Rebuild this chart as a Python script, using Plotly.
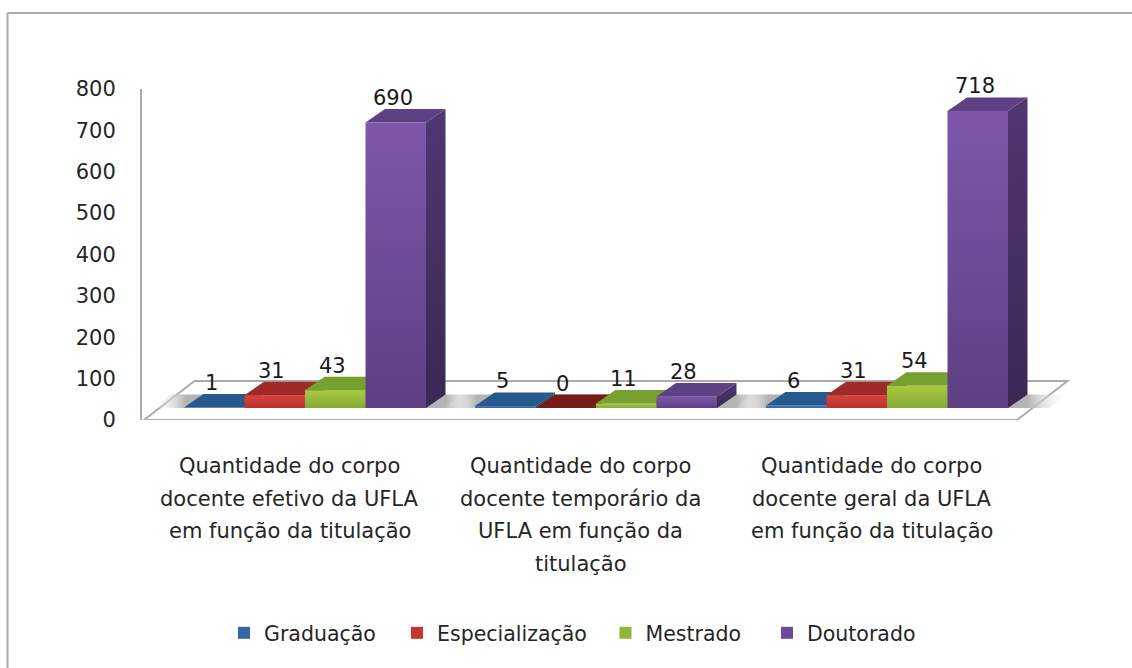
import plotly.graph_objects as go

# ---- data ----
series_names = ["Graduação", "Especialização", "Mestrado", "Doutorado"]
graduacao = [1, 5, 6]
especializacao = [31, 0, 31]
mestrado = [43, 11, 54]
doutorado = [690, 28, 718]
y_ticks = [0, 100, 200, 300, 400, 500, 600, 700, 800]
category_lines = [
    ["Quantidade do corpo", "docente efetivo da UFLA", "em função da titulação"],
    ["Quantidade do corpo", "docente temporário da", "UFLA em função da", "titulação"],
    ["Quantidade do corpo", "docente geral da UFLA", "em função da titulação"],
]
series_values = [graduacao, especializacao, mestrado, doutorado]

# ---- style ----
FONT = "DejaVu Sans"
TXT = "#262626"
GRID = "#ababab"
# legend/flat, front top, front bottom, top face, side top, side bottom
PALETTE = [
    ("#3566a6", "#4a7fc0", "#33659f", "#27598f", "#1f4a78", "#1f4a78"),
    ("#c0392f", "#d8423c", "#b73430", "#9f2a28", "#7f2020", "#7f2020"),
    ("#8db63a", "#a6cb41", "#86aa36", "#76a02f", "#5f8226", "#5f8226"),
    ("#6d4a99", "#7e57ab", "#5e3f84", "#5e4185", "#4f3772", "#3b2855"),
]
ZERO_TOP = "#761c18"
LEGEND_X_PX = [224, 397, 605.5, 767]
LEGEND_Y_PX = 613

# projection, layout in pixels of the 1132x668 page
W, H = 1132, 668
AX_L, AX_R, AX_T, AX_B = 142, 1100, 89, 420
FLOOR_X0, FLOOR_X1 = 144, 1017
CAT_PX = (FLOOR_X1 - FLOOR_X0) / 3
PX_PER_UNIT = (AX_B - AX_T) / 800
BAR_PX = 60.5
GROUP_SHIFT = 15.5
BASE = 12 / PX_PER_UNIT            # front base of the bars above axis zero
DX = 19.5 / CAT_PX                 # oblique depth of a bar
DY = 13.5 / PX_PER_UNIT
FLOOR_DX = 50.5 / CAT_PX
FLOOR_DY = 39 / PX_PER_UNIT
BW = BAR_PX / CAT_PX
SHIFT = GROUP_SHIFT / CAT_PX


def px_x(px):
    return (px - FLOOR_X0) / CAT_PX


def paper_x(px):
    return (px - AX_L) / (AX_R - AX_L)


def paper_y(px):
    return (AX_B - px) / (AX_B - AX_T)


x_range = [px_x(AX_L), px_x(AX_R)]

fig = go.Figure()


def poly(xs, ys, **kw):
    return go.Scatter(x=xs, y=ys, mode="lines", fill="toself", line=dict(width=0),
                      hoverinfo="skip", showlegend=False, **kw)


# bars: true values, each with its own legend box
legend_ids = ["legend", "legend2", "legend3", "legend4"]
for s, (name, vals) in enumerate(zip(series_names, series_values)):
    xs = [c + 0.5 + SHIFT + (s - 1.5) * BW for c in range(3)]
    fig.add_trace(go.Bar(x=xs, y=vals, base=BASE, width=BW, name=name, legend=legend_ids[s],
                         marker=dict(color=PALETTE[s][0], line=dict(width=0)),
                         hoverinfo="skip"))

# shadows on the floor, from group left to group right
for c in range(3):
    left = c + 0.5 + SHIFT - 2 * BW
    right = c + 0.5 + SHIFT + 2 * BW
    l0, r0 = left - 0.11, right + 0.14
    fig.add_trace(poly(
        [l0, r0, r0 + DX, l0 + DX, l0],
        [BASE, BASE, BASE + DY, BASE + DY, BASE],
        fillgradient=dict(type="horizontal", colorscale=[
            [0, "rgba(255,255,255,0)"], [0.1, "#b4b4b4"], [0.88, "#b4b4b4"], [1, "rgba(255,255,255,0)"]]),
    ))

# 3D faces drawn left to right so that each bar hides the side of the previous one
for c in range(3):
    for s, vals in enumerate(series_values):
        v = vals[c]
        x0 = c + 0.5 + SHIFT + (s - 2) * BW
        x1 = x0 + BW
        top = BASE + v
        flat, f_top, f_bot, t_col, sd_top, sd_bot = PALETTE[s]
        fig.add_trace(poly([x1, x1 + DX, x1 + DX, x1, x1],
                           [BASE, BASE + DY, top + DY, top, BASE],
                           fillgradient=dict(type="vertical", colorscale=[[0, sd_bot], [1, sd_top]])))
        fig.add_trace(poly([x0, x1, x1 + DX, x0 + DX, x0],
                           [top, top, top + DY, top + DY, top],
                           fillcolor=ZERO_TOP if v == 0 else t_col))
        if v > 0:
            fig.add_trace(poly([x0, x1, x1, x0, x0],
                               [BASE, BASE, top, top, BASE],
                               fillgradient=dict(type="vertical", colorscale=[[0, f_bot], [1, f_top]])))

shapes = [
    # floor
    dict(type="path", layer="below", xref="x", yref="y",
         path=f"M {px_x(FLOOR_X0)} 0 L {px_x(FLOOR_X1)} 0 L {px_x(FLOOR_X1) + FLOOR_DX} {FLOOR_DY} "
              f"L {px_x(FLOOR_X0) + FLOOR_DX} {FLOOR_DY} Z",
         line=dict(color=GRID, width=2), fillcolor="white"),
    # frame: only top and left edges show
    dict(type="line", xref="paper", yref="paper", layer="below",
         x0=paper_x(7.5), x1=paper_x(1132), y0=paper_y(13), y1=paper_y(13),
         line=dict(color=GRID, width=2)),
    dict(type="line", xref="paper", yref="paper", layer="below",
         x0=paper_x(7.5), x1=paper_x(7.5), y0=paper_y(13), y1=paper_y(668),
         line=dict(color=GRID, width=2)),
]

annotations = []
# value labels, placed from the values (paper reference so that 718 may rise above the axis)
LABEL_DY = 11 / PX_PER_UNIT
for s, vals in enumerate(series_values):
    for c, v in enumerate(vals):
        annotations.append(dict(
            x=c + 0.5 + SHIFT + (s - 1.5) * BW - 3 / CAT_PX,
            y=(BASE + v + DY + LABEL_DY) / 800, xref="x", yref="paper",
            text=str(v), showarrow=False, xanchor="center", yanchor="middle",
            font=dict(family=FONT, size=21, color="#1a1a1a")))

# category labels, one annotation a line for the wide leading of the original
LINE0 = 466
LEAD = 32.6
for c, lines in enumerate(category_lines):
    for i, txt in enumerate(lines):
        annotations.append(dict(
            x=c + 0.5, y=paper_y(LINE0 + i * LEAD), xref="x", yref="paper",
            text=txt, showarrow=False, xanchor="center", yanchor="middle",
            font=dict(family=FONT, size=21, color=TXT)))

legend_common = dict(orientation="h", xanchor="left", yanchor="top",
                     font=dict(family=FONT, size=20.5, color=TXT),
                     bgcolor="rgba(0,0,0,0)", itemclick=False, itemdoubleclick=False)

fig.update_layout(
    width=W, height=H, autosize=False,
    margin=dict(l=AX_L, r=W - AX_R, t=AX_T, b=H - AX_B, pad=0, autoexpand=False),
    paper_bgcolor="white", plot_bgcolor="rgba(0,0,0,0)",
    barmode="overlay", bargap=0,
    shapes=shapes, annotations=annotations,
    font=dict(family=FONT, size=19, color=TXT),
    xaxis=dict(range=x_range, showgrid=False, zeroline=False, showticklabels=False,
               ticks="", showline=False, fixedrange=True),
    yaxis=dict(range=[0, 800], tickvals=y_ticks, ticktext=[str(t) for t in y_ticks],
               showgrid=False, zeroline=False, showline=True, linecolor=GRID, linewidth=2,
               ticks="", ticklabelstandoff=20, tickfont=dict(family=FONT, size=21, color=TXT),
               fixedrange=True),
    **{lid: dict(legend_common, x=paper_x(px), y=paper_y(LEGEND_Y_PX))
       for lid, px in zip(legend_ids, LEGEND_X_PX)},
)

fig.write_html("out.html", config=dict(displayModeBar=False),
               post_script="document.body.style.margin='0';")
